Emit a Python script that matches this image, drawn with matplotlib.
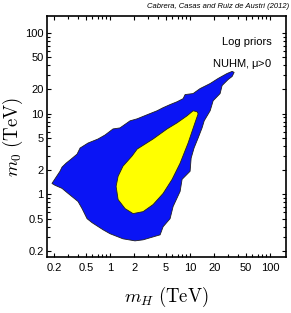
import numpy as np
import matplotlib
matplotlib.use('Agg')
import matplotlib.pyplot as plt
from matplotlib.ticker import FixedLocator, LogLocator, NullFormatter

plt.rcParams['font.family'] = ['Liberation Sans', 'DejaVu Sans']
plt.rcParams['mathtext.fontset'] = 'cm'

# 95% region (blue) outline, (mH, m0) in TeV
mh_95 = [0.188, 0.211, 0.237, 0.251, 0.282, 0.326, 0.387, 0.422, 0.531, 0.708,
         0.866, 1.09, 1.33, 1.78, 2.18, 2.90, 3.87, 4.60, 5.62, 6.88,
         8.18, 8.66, 10.9, 13.3, 17.8, 22.4, 29.0, 33.5, 35.5, 33.5,
         29.9, 25.1, 23.7, 19.4, 17.8, 15.0, 14.1, 12.6, 11.2, 10.3,
         10.0, 7.94, 7.50, 6.13, 5.62, 4.60, 4.22, 2.59, 2.05, 1.45,
         1.0, 0.818, 0.596, 0.516, 0.447, 0.398, 0.299, 0.251, 0.205]
m0_95 = [1.37, 1.63, 1.94, 2.18, 2.44, 2.74, 3.16, 3.76, 4.34, 4.87,
         5.46, 6.49, 6.68, 8.18, 8.66, 9.72, 10.9, 11.9, 13.0, 14.1,
         15.4, 17.3, 17.8, 20.5, 23.7, 27.4, 31.6, 33.5, 32.6, 29.0,
         26.6, 22.4, 17.8, 14.5, 10.9, 8.18, 6.68, 5.01, 3.76, 2.82,
         1.94, 1.54, 1.09, 0.708, 0.501, 0.398, 0.316, 0.274, 0.266, 0.282,
         0.326, 0.365, 0.447, 0.501, 0.668, 0.818, 1.03, 1.19, 1.30]

# 68% region (yellow) outline
mh_68 = [12.2, 10.9, 9.17, 6.88, 5.16, 3.45, 2.18, 1.88, 1.45, 1.26,
         1.19, 1.26, 1.54, 1.94, 2.59, 3.45, 4.60, 5.96, 7.50, 9.44,
         11.5, 12.6]
m0_68 = [10.6, 10.9, 9.44, 7.72, 6.49, 4.87, 3.65, 2.99, 2.24, 1.68,
         1.26, 0.866, 0.668, 0.579, 0.613, 0.750, 1.03, 1.54, 2.44, 4.34,
         7.72, 10.0]

ticks = [0.2, 0.5, 1, 2, 5, 10, 20, 50, 100]
tick_labels = ['0.2', '0.5', '1', '2', '5', '10', '20', '50', '100']

fig = plt.figure(figsize=(2.91, 3.13), dpi=100)
ax = fig.add_axes([0.1615, 0.179, 0.8215, 0.770])

ax.fill(mh_95, m0_95, color='#0a14f5', ec='#202020', lw=0.6, zorder=2)
ax.fill(mh_68, m0_68, color='#ffff00', ec='#202020', lw=0.6, zorder=3)

ax.set_xscale('log')
ax.set_yscale('log')
ax.set_xlim(0.163, 158)
ax.set_ylim(0.168, 163)

for axis in (ax.xaxis, ax.yaxis):
    axis.set_major_locator(FixedLocator(ticks))
    axis.set_minor_locator(LogLocator(base=10, subs=np.arange(1, 10)))
    axis.set_minor_formatter(NullFormatter())
ax.set_xticklabels(tick_labels)
ax.set_yticklabels(tick_labels)
ax.tick_params(which='both', direction='in', top=True, right=True,
               labelsize=8, width=0.8)
ax.tick_params(axis='x', pad=4)
ax.tick_params(axis='y', pad=2.5)
ax.tick_params(which='major', length=3.2)
ax.tick_params(which='minor', length=2)
for s in ax.spines.values():
    s.set_linewidth(1.2)

ax.set_xlabel(r'$m_H\ \mathrm{(TeV)}$', fontsize=13.5, labelpad=9)
ax.set_ylabel(r'$m_0\ \mathrm{(TeV)}$', fontsize=13.5, labelpad=0)

ax.text(0.94, 0.892, 'Log priors', transform=ax.transAxes,
        ha='right', va='center', fontsize=8)
ax.text(0.94, 0.802, r'NUHM, $\mathregular{\mu}$>0', transform=ax.transAxes,
        ha='right', va='center', fontsize=8)
fig.text(0.993, 0.978, 'Cabrera, Casas and Ruiz de Austri (2012)',
         ha='right', va='center', fontsize=5.5, style='italic')

plt.savefig('out.png', dpi=100)
